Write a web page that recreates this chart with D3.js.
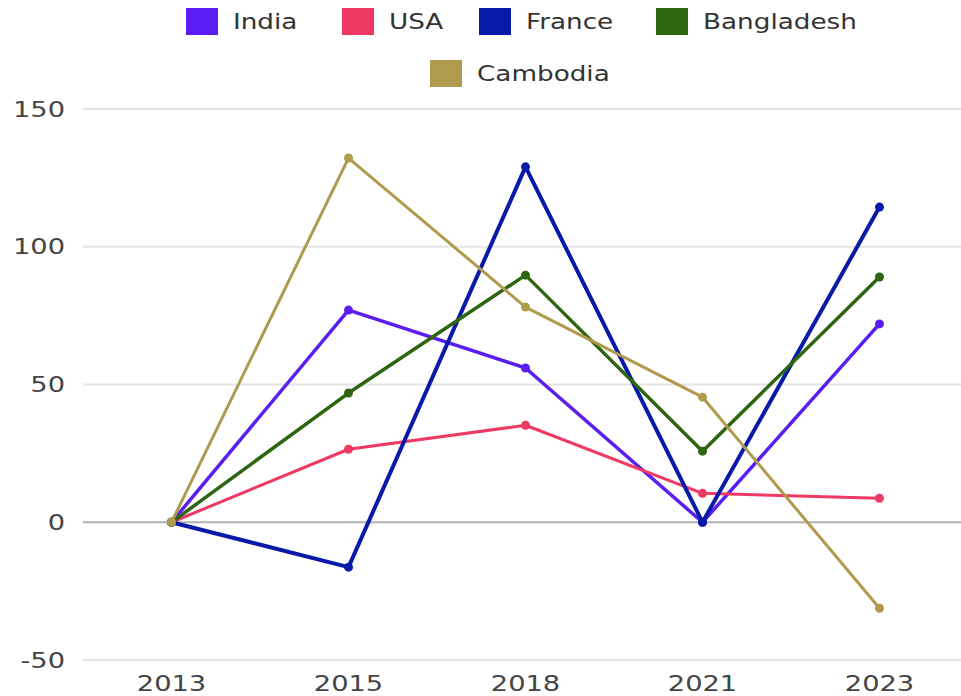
<!DOCTYPE html>
<html><head><meta charset="utf-8">
<script src="https://cdn.jsdelivr.net/npm/d3@7"></script>
<style>body{margin:0;background:#fff}svg{display:block}</style>
</head><body>
<svg id="c" width="961" height="696"></svg>
<script>
const years = ["2013","2015","2018","2021","2023"];
const seriesNames = ["India","USA","France","Bangladesh","Cambodia"];
const india      = [0, 77, 56, 0, 72];
const usa        = [0, 26.5, 35.2, 10.5, 8.7];
const france     = [0, -16.3, 129, 0, 114.4];
const bangladesh = [0, 46.9, 89.7, 25.8, 89];
const cambodia   = [0, 132.2, 78.1, 45.4, -31.2];
const yTicks = [-50, 0, 50, 100, 150];
const colors = ["#5a1ef2","#ee3a62","#0a1aa8","#2e6510","#b09a4e"];
const widths = [3.5, 3, 4, 3.5, 3];

const seriesValues = [india, usa, france, bangladesh, cambodia];
const W = 961, H = 696, SX = 1.25;
const svg = d3.select("#c");
const font = "DejaVu Sans, sans-serif";

const x = d3.scalePoint().domain(years).range([83, 968]).padding(0.5);
const y = d3.scaleLinear().domain([-50, 150]).range([660, 109]);

// gridlines
svg.append("g").selectAll("line").data(yTicks).join("line")
  .attr("x1", 83).attr("x2", W)
  .attr("y1", d => y(d)).attr("y2", d => y(d))
  .attr("stroke", d => d === 0 ? "#b0b0b0" : "#e4e4e4")
  .attr("stroke-width", 2);

// y labels
svg.append("g").selectAll("text").data(yTicks).join("text")
  .attr("transform", d => `translate(65,${y(d)}) scale(1.3,1)`)
  .attr("text-anchor", "end").attr("dy", "0.36em")
  .attr("font-family", font).attr("font-size", 21).attr("fill", "#444")
  .text(d => d);

// x labels
svg.append("g").selectAll("text").data(years).join("text")
  .attr("transform", d => `translate(${x(d)},683) scale(1.3,1)`)
  .attr("text-anchor", "middle").attr("dy", "0.36em")
  .attr("font-family", font).attr("font-size", 21).attr("fill", "#444")
  .text(d => d);

const line = d3.line().x((d, i) => x(years[i])).y(d => y(d));

seriesNames.forEach((name, s) => {
  const g = svg.append("g");
  g.append("path").datum(seriesValues[s])
    .attr("d", line).attr("fill", "none")
    .attr("stroke", colors[s]).attr("stroke-width", widths[s])
    .attr("stroke-linejoin", "round");
  g.selectAll("circle").data(seriesValues[s]).join("circle")
    .attr("cx", (d, i) => x(years[i])).attr("cy", d => y(d))
    .attr("r", 4.5).attr("fill", colors[s]);
});

// legend
const legendPos = [
  {x: 186, y: 21}, {x: 342, y: 21}, {x: 479, y: 21}, {x: 656, y: 21}, {x: 430, y: 73}
];
seriesNames.forEach((name, s) => {
  const p = legendPos[s];
  svg.append("rect").attr("x", p.x).attr("y", p.y - 13).attr("width", 32).attr("height", 27)
    .attr("fill", colors[s]);
  svg.append("text")
    .attr("transform", `translate(${p.x + 47},${p.y}) scale(${SX},1)`)
    .attr("dy", "0.36em").attr("font-family", font).attr("font-size", 21).attr("fill", "#333")
    .text(name);
});
</script>
</body></html>
